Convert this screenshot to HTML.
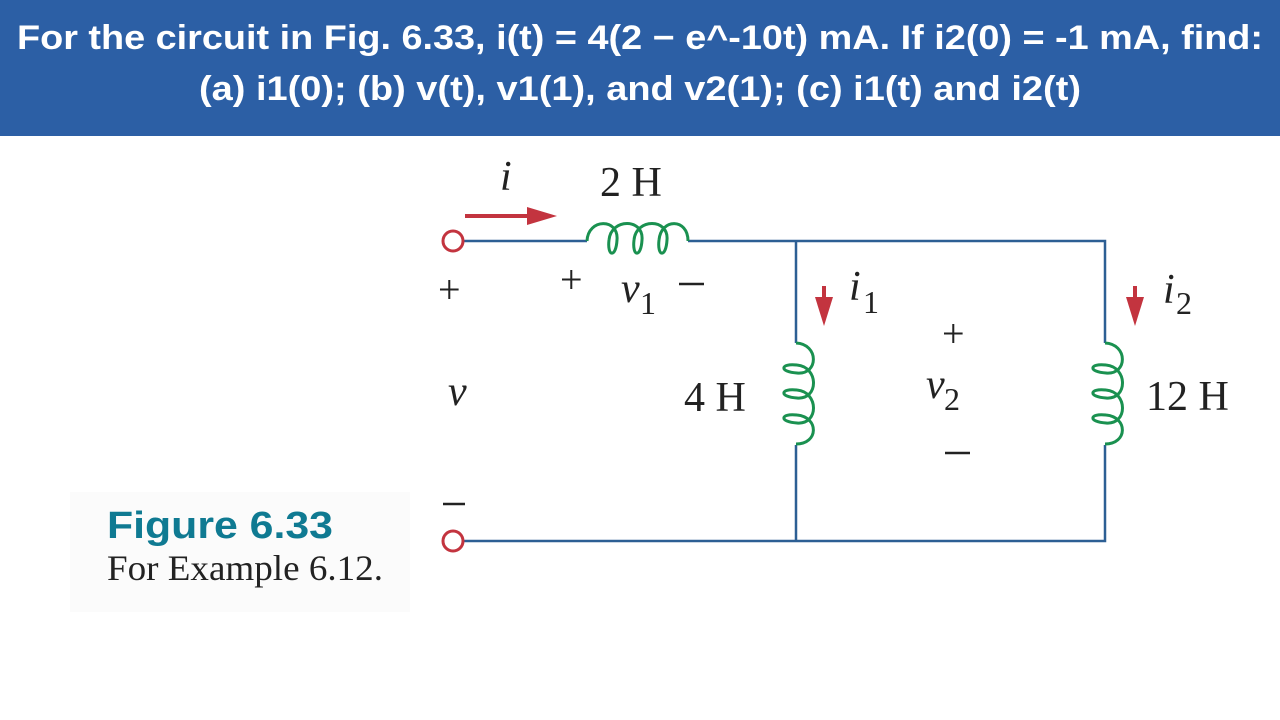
<!DOCTYPE html>
<html><head><meta charset="utf-8"><style>
html,body{margin:0;padding:0;background:#fff;}
svg{display:block;}
</style></head><body>
<svg width="1280" height="720" viewBox="0 0 1280 720" xmlns="http://www.w3.org/2000/svg">
<rect x="0" y="0" width="1280" height="720" fill="#fff"/>
<rect x="0" y="0" width="1280" height="136" fill="#2c5fa5"/>
<g font-family="Liberation Sans, sans-serif" font-weight="bold" font-size="34" fill="#fff" text-anchor="middle">
<text x="640" y="49" textLength="1246" lengthAdjust="spacingAndGlyphs">For the circuit in Fig. 6.33, i(t) = 4(2 − e^-10t) mA. If i2(0) = -1 mA, find:</text>
<text x="640" y="100" textLength="882" lengthAdjust="spacingAndGlyphs">(a) i1(0); (b) v(t), v1(1), and v2(1); (c) i1(t) and i2(t)</text>
</g>
<rect x="70" y="492" width="340" height="120" fill="#fbfbfb"/>
<text x="107" y="538" font-family="Liberation Sans, sans-serif" font-weight="bold" font-size="38" fill="#0f7a92" textLength="226" lengthAdjust="spacingAndGlyphs">Figure 6.33</text>
<text x="107" y="580" font-family="Liberation Serif, serif" font-size="36" fill="#222" textLength="276" lengthAdjust="spacingAndGlyphs">For Example 6.12.</text>

<g stroke="#2d5f94" stroke-width="2.5" fill="none">
<path d="M463,241 H587 M688,241 H1105 V343 M1105,445 V541 H463 M796,241 V343 M796,445 V541"/>
</g>
<defs>
<path id="coil" d="M0,0 C1,-23 32,-23 30,-1 C29,17 20,16 22,-1 C24,-23 57,-23 55,-1 C54,17 45,16 47,-1 C49,-23 82,-23 80,-1 C79,17 70,16 72,-1 C74,-23 101,-23 101,0" fill="none" stroke="#1a9150" stroke-width="3"/>
</defs>
<use href="#coil" transform="translate(587,241)"/>
<use href="#coil" transform="translate(796,343) rotate(90)"/>
<use href="#coil" transform="translate(1105,343) rotate(90)"/>

<circle cx="453" cy="241" r="10" fill="#fff" stroke="#c3343f" stroke-width="3"/>
<circle cx="453" cy="541" r="10" fill="#fff" stroke="#c3343f" stroke-width="3"/>

<g fill="#c3343f" stroke="#c3343f">
<line x1="465" y1="216" x2="530" y2="216" stroke-width="4"/>
<polygon points="527,207 557,216 527,225" stroke="none"/>
<line x1="824" y1="286" x2="824" y2="300" stroke-width="4"/>
<polygon points="815,297 833,297 824,326" stroke="none"/>
<line x1="1135" y1="286" x2="1135" y2="300" stroke-width="4"/>
<polygon points="1126,297 1144,297 1135,326" stroke="none"/>
</g>

<g font-family="Liberation Serif, serif" font-size="42" fill="#222">
<text x="600" y="196">2 H</text>
<text x="684" y="411">4 H</text>
<text x="1146" y="410">12 H</text>
<text x="500" y="190" font-style="italic">i</text>
<text x="849" y="300" font-style="italic">i</text><text x="863" y="313" font-size="32">1</text>
<text x="1163" y="303" font-style="italic">i</text><text x="1176" y="314" font-size="32">2</text>
<text x="621" y="302" font-style="italic">v</text><text x="640" y="314" font-size="32">1</text>
<text x="926" y="398" font-style="italic">v</text><text x="944" y="410" font-size="32">2</text>
<text x="448" y="405" font-style="italic">v</text>
<text x="438" y="303" font-size="40">+</text>
<text x="560" y="293" font-size="40">+</text>
<text x="942" y="347" font-size="40">+</text>
</g>
<g stroke="#222" stroke-width="2.5">
<line x1="679" y1="284" x2="704" y2="284"/>
<line x1="945" y1="453" x2="970" y2="453"/>
<line x1="443" y1="504" x2="465" y2="504"/>
</g>
</svg>
</body></html>
